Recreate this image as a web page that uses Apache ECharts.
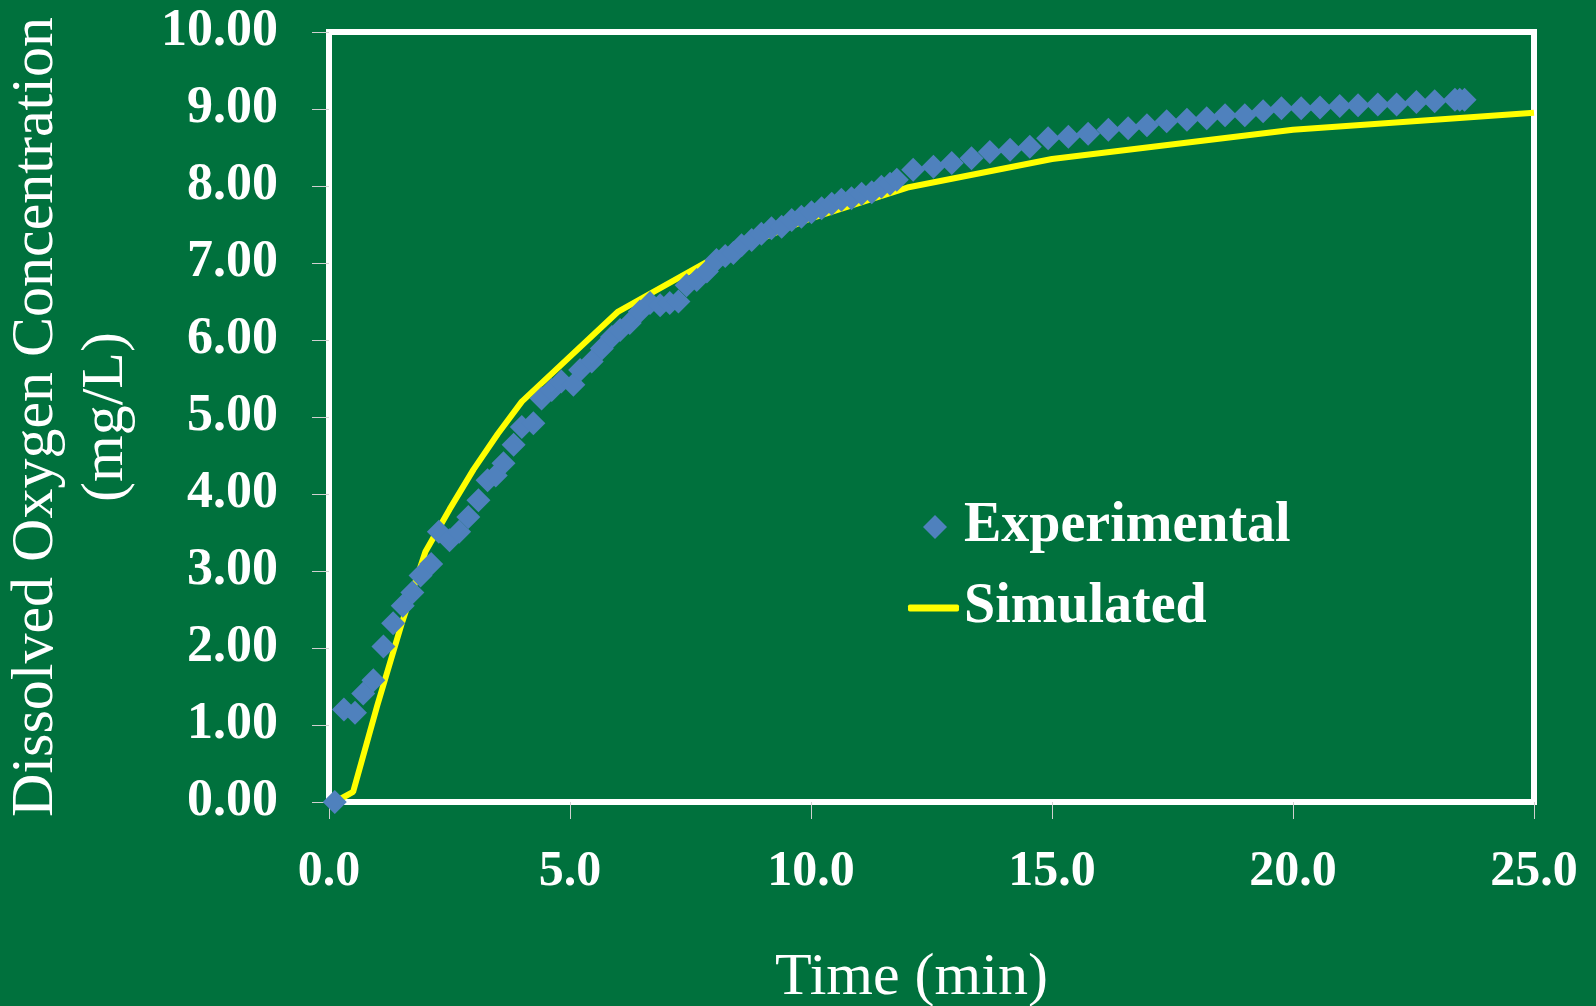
<!DOCTYPE html>
<html>
<head>
<meta charset="utf-8">
<script src="https://cdn.jsdelivr.net/npm/echarts@6/dist/echarts.min.js"></script>
<style>
html,body{margin:0;padding:0;background:#00713D;}
#chart{width:1596px;height:1006px;}
</style>
</head>
<body>
<div id="chart"></div>
<script>
// Experimental data: time (min) and dissolved oxygen (mg/L)
const expTime = [0.12,0.31,0.54,0.71,0.92,1.13,1.33,1.53,1.73,1.90,2.12,2.28,2.50,2.70,2.89,3.10,3.29,3.46,3.62,3.83,4.00,4.24,4.41,4.62,4.82,5.07,5.21,5.45,5.66,5.87,6.04,6.24,6.45,6.66,6.87,7.07,7.25,7.42,7.63,7.84,8.04,8.22,8.39,8.56,8.77,8.97,9.18,9.39,9.60,9.80,10.01,10.22,10.43,10.63,10.84,11.05,11.26,11.46,11.64,11.78,12.12,12.54,12.92,13.33,13.71,14.13,14.54,14.92,15.34,15.75,16.17,16.58,16.97,17.38,17.80,18.21,18.59,19.00,19.38,19.76,20.17,20.56,20.97,21.35,21.76,22.15,22.56,22.94,23.36,23.46,23.56];
const expDO = [0.00,1.20,1.16,1.41,1.58,2.02,2.32,2.55,2.72,2.94,3.09,3.51,3.40,3.51,3.70,3.92,4.18,4.24,4.40,4.64,4.87,4.92,5.24,5.35,5.46,5.42,5.61,5.72,5.89,6.04,6.13,6.22,6.37,6.48,6.45,6.48,6.50,6.71,6.78,6.89,7.04,7.09,7.13,7.23,7.30,7.38,7.45,7.47,7.56,7.60,7.66,7.71,7.77,7.82,7.84,7.90,7.92,7.99,8.03,8.08,8.21,8.25,8.30,8.36,8.44,8.47,8.51,8.62,8.64,8.68,8.73,8.75,8.79,8.84,8.86,8.88,8.92,8.92,8.97,9.01,9.01,9.02,9.04,9.05,9.06,9.06,9.09,9.10,9.12,9.12,9.12];

// Simulated data
const simTime = [0.12,0.5,1.0,1.5,2.0,2.5,3.0,3.5,4.0,6.0,8.0,10.0,12.0,15.0,20.0,25.0];
const simDO   = [0.00,0.13,1.25,2.30,3.25,3.80,4.32,4.78,5.20,6.37,7.07,7.58,7.98,8.35,8.73,8.95];

// Tick labels
const yTickLabels = ['0.00','1.00','2.00','3.00','4.00','5.00','6.00','7.00','8.00','9.00','10.00'];
const xTickLabels = ['0.0','5.0','10.0','15.0','20.0','25.0'];

const seriesNames = ['Experimental','Simulated'];

const chart = echarts.init(document.getElementById('chart'), null, {renderer:'canvas'});
const serif = '"Liberation Serif", "Times New Roman", serif';
const legendText = {color:'#FFFFFF', fontFamily: serif, fontWeight:'bold', fontSize: 56};

const option = {
  backgroundColor: '#00713D',
  animation: false,
  grid: {
    left: 329, right: 62, top: 32, bottom: 204,
    outerBoundsMode: 'none', containLabel: false,
    show: true, borderColor: '#FFFFFF', borderWidth: 6, backgroundColor: 'transparent'
  },
  legend: [
    {
      orient: 'vertical', left: 918, top: 494,
      itemWidth: 24, itemHeight: 24,
      data: [{name: seriesNames[0], icon: 'diamond'}],
      textStyle: Object.assign({padding:[0,0,0,12]}, legendText)
    },
    {
      orient: 'vertical', left: 903, top: 575,
      itemWidth: 51, itemHeight: 7,
      data: [{name: seriesNames[1], icon: 'roundRect'}],
      textStyle: Object.assign({padding:[0,0,0,0]}, legendText)
    }
  ],
  xAxis: {
    type: 'value', min: 0, max: 25, interval: 5,
    name: 'Time (min)', nameLocation: 'middle', nameGap: 146,
    nameTextStyle: {color:'#FFFFFF', fontFamily: serif, fontSize: 60, lineHeight: 60, padding:[0,40,0,0]},
    axisLine: {show:true, lineStyle:{color:'#FFFFFF', width:6}},
    axisTick: {show:true, length:17, lineStyle:{color:'#D0D0D0', width:1}},
    splitLine: {show:false},
    axisLabel: {
      color:'#FFFFFF', fontFamily: serif, fontWeight:'bold', fontSize: 50, margin: 45,
      formatter: v => xTickLabels[Math.round(v/5)]
    }
  },
  yAxis: {
    type: 'value', min: 0, max: 10, interval: 1,
    name: 'Dissolved Oxygen Concentration\n(mg/L)', nameLocation: 'middle', nameGap: 188,
    nameTextStyle: {color:'#FFFFFF', fontFamily: serif, fontSize: 60, lineHeight: 70, align:'center'},
    axisLine: {show:true, lineStyle:{color:'#FFFFFF', width:6}},
    axisTick: {show:true, length:17, lineStyle:{color:'#D0D0D0', width:1}},
    splitLine: {show:false},
    axisLabel: {
      color:'#FFFFFF', fontFamily: serif, fontWeight:'bold', fontSize: 52, margin: 51,
      formatter: v => yTickLabels[Math.round(v)]
    }
  },
  series: [
    {
      name: seriesNames[0], type: 'scatter', z: 5,
      symbol: 'diamond', symbolSize: [24,24],
      itemStyle: {color:'#4F81BD', opacity: 1},
      data: expTime.map((t,i)=>[t, expDO[i]])
    },
    {
      name: seriesNames[1], type: 'line', z: 3,
      showSymbol: false, symbol: 'none',
      lineStyle: {color:'#FFFF00', width: 6},
      itemStyle: {color:'#FFFF00'},
      data: simTime.map((t,i)=>[t, simDO[i]])
    }
  ]
};
chart.setOption(option);
</script>
</body>
</html>
